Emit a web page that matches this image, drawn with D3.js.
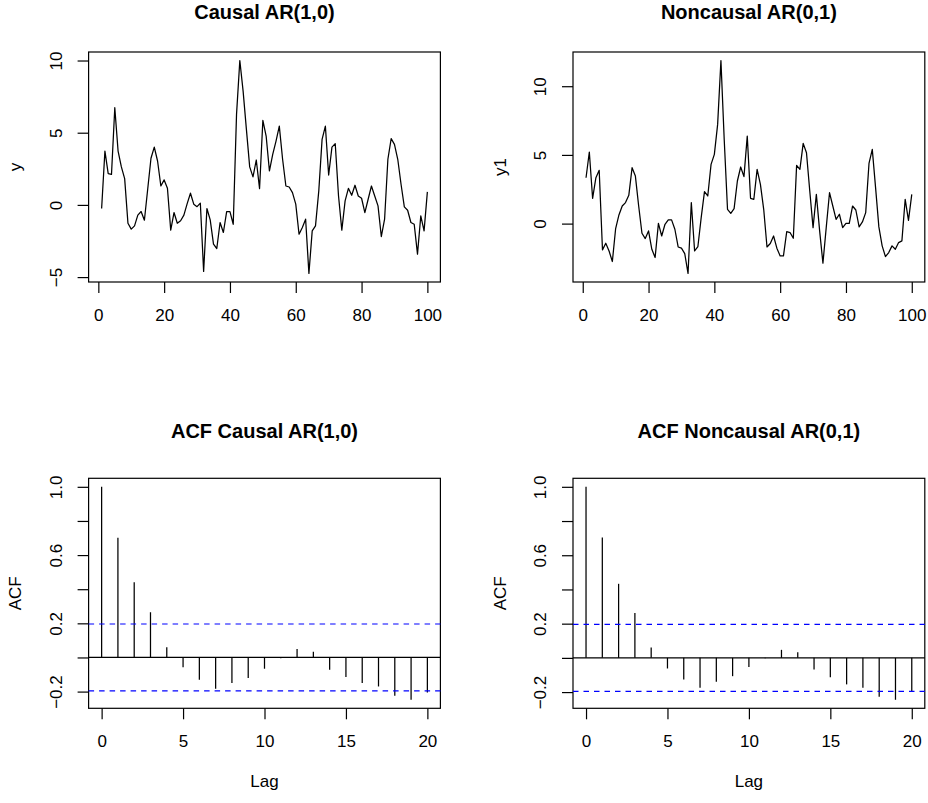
<!DOCTYPE html>
<html>
<head>
<meta charset="utf-8">
<script src="https://cdn.jsdelivr.net/npm/d3@7"></script>
<style>
  html, body { margin: 0; padding: 0; background: #fff; }
  svg { display: block; }
  text { font-family: "Liberation Sans", Arial, Helvetica, sans-serif; fill: #000; }
</style>
</head>
<body>
<svg id="chart" width="928" height="803"></svg>
<script>
// ---------- data ----------
const timeIndex = d3.range(1, 101);
const causalSeries = [
  -0.25, 3.73, 2.17, 2.12, 6.73, 3.73, 2.63, 1.82, -1.27, -1.68,
  -1.45, -0.71, -0.46, -1.06, 1.08, 3.23, 4.00, 3.04, 1.31, 1.73,
  1.15, -1.75, -0.53, -1.27, -1.10, -0.71, 0.09, 0.81, 0.05, -0.12,
  0.12, -4.61, -0.25, -1.04, -2.72, -3.02, -1.22, -1.91, -0.46, -0.46,
  -1.34, 6.27, 10.00, 7.88, 5.23, 2.63, 1.94, 3.11, 1.13, 5.85,
  4.77, 2.35, 3.50, 4.42, 5.46, 3.16, 1.31, 1.24, 0.85, 0.05,
  -2.03, -1.57, -0.99, -4.75, -1.80, -1.45, 0.97, 4.54, 5.46, 2.07,
  4.00, 4.24, 0.62, -1.75, 0.28, 1.15, 0.67, 1.36, 0.62, 0.46,
  -0.53, 0.39, 1.31, 0.62, -0.07, -2.19, -0.99, 3.16, 4.59, 4.19,
  3.16, 1.43, -0.14, -0.37, -1.22, -1.34, -3.41, -0.76, -1.80, 0.90
];
const noncausalSeries = [
  3.34, 5.21, 1.84, 3.34, 3.88, -1.91, -1.43, -1.99, -2.76, -0.36,
  0.63, 1.28, 1.53, 2.06, 4.07, 3.46, 1.28, -0.70, -1.09, -0.53,
  -1.87, -2.47, 0.02, -0.90, -0.05, 0.27, 0.27, -0.41, -1.70, -1.79,
  -2.18, -3.63, 1.53, -1.99, -1.67, 0.44, 2.33, 2.01, 4.31, 5.04,
  7.22, 11.87, 6.10, 1.04, 0.75, 1.09, 3.10, 4.12, 3.42, 6.37,
  1.84, 1.77, 3.95, 2.86, 1.04, -1.70, -1.45, -0.90, -1.79, -2.35,
  -2.35, -0.58, -0.65, -1.07, 4.24, 3.95, 5.84, 5.16, 2.37, -0.29,
  2.13, -0.53, -2.88, -0.29, 2.25, 1.28, 0.31, 0.68, -0.29, 0.02,
  0.02, 1.28, 0.99, -0.24, 0.12, 0.80, 4.38, 5.40, 2.62, -0.24,
  -1.62, -2.40, -2.11, -1.62, -1.87, -1.38, -1.26, 1.77, 0.24, 2.13
];
const lags = d3.range(0, 21);
const acfCausal = [1, 0.702, 0.441, 0.265, 0.060, -0.057, -0.131, -0.183, -0.150, -0.121,
  -0.066, -0.004, 0.049, 0.033, -0.072, -0.115, -0.150, -0.170, -0.224, -0.248, -0.205];
const acfNoncausal = [1, 0.703, 0.433, 0.262, 0.060, -0.062, -0.126, -0.175, -0.140, -0.107,
  -0.054, -0.002, 0.047, 0.033, -0.068, -0.113, -0.155, -0.175, -0.227, -0.245, -0.198];
const acfBound = 0.196;

const seriesXTicks = [0, 20, 40, 60, 80, 100];
const causalYTicks = [-5, 0, 5, 10];
const noncausalYTicks = [0, 5, 10];
const lagTicks = [0, 5, 10, 15, 20];
const acfYTicks = [-0.2, 0, 0.2, 0.4, 0.6, 0.8, 1.0];
const acfYLabelled = [-0.2, 0.2, 0.6, 1.0];

const titles = ["Causal AR(1,0)", "Noncausal AR(0,1)", "ACF Causal AR(1,0)", "ACF Noncausal AR(0,1)"];
const yTitles = ["y", "y1", "ACF", "ACF"];

// ---------- layout ----------
const svg = d3.select("#chart");
const colX = [88.6, 573.0];
const plotW = 351.8;
const rowY = [52, 478.3];
const plotH = 230;
const axisFont = 17;
const titleFont = 20;

function ext(lo, hi) { const r = hi - lo; return [lo - 0.04 * r, hi + 0.04 * r]; }
const fmt = d => (d < 0 ? "\u2212" + Math.abs(d) : String(d));
const fmt1 = d => (d < 0 ? "\u2212" + Math.abs(d).toFixed(1) : d.toFixed(1));

function panel(col, row, title, ytitle, xscale, yscale, xTicks, yTicks, yFmt, xlab) {
  const x0 = colX[col], y0 = rowY[row];
  const g = svg.append("g").attr("transform", `translate(${x0},${y0})`);
  // box
  g.append("rect").attr("x", 0).attr("y", 0).attr("width", plotW).attr("height", plotH)
    .attr("fill", "none").attr("stroke", "#000").attr("stroke-width", 1.2);
  // x axis
  const xa = g.append("g").attr("transform", `translate(0,${plotH})`)
    .call(d3.axisBottom(xscale).tickValues(xTicks).tickSize(11).tickSizeOuter(0).tickFormat(d => String(d)));
  xa.select(".domain").remove();
  xa.selectAll(".tick line").attr("stroke", "#000").attr("stroke-width", 1.2);
  xa.selectAll(".tick text").attr("y", 38.8).attr("dy", 0).style("font-size", axisFont + "px");
  // y axis
  const ya = g.append("g")
    .call(d3.axisLeft(yscale).tickValues(yTicks).tickSize(11).tickSizeOuter(0).tickFormat(yFmt));
  ya.select(".domain").remove();
  ya.selectAll(".tick line").attr("stroke", "#000").attr("stroke-width", 1.2);
  ya.selectAll(".tick text").attr("x", 0).attr("dy", 0).attr("text-anchor", "middle")
    .attr("transform", "translate(-26.6,0) rotate(-90)").style("font-size", axisFont + "px");
  // title
  svg.append("text").attr("x", x0 + plotW / 2).attr("y", row === 0 ? 18.5 : 437.5)
    .attr("text-anchor", "middle").style("font-size", titleFont + "px").style("font-weight", "bold")
    .text(title);
  // y title
  svg.append("text").attr("transform", `translate(${x0 - 67.4},${y0 + plotH / 2}) rotate(-90)`)
    .attr("text-anchor", "middle").style("font-size", axisFont + "px").text(ytitle);
  if (xlab) {
    svg.append("text").attr("x", x0 + plotW / 2).attr("y", y0 + plotH + 79)
      .attr("text-anchor", "middle").style("font-size", axisFont + "px").text(xlab);
  }
  return g;
}

// ---------- time series panels ----------
[[causalSeries, causalYTicks], [noncausalSeries, noncausalYTicks]].forEach(([series, yt], i) => {
  const x = d3.scaleLinear().domain(ext(1, 100)).range([0, plotW]);
  const y = d3.scaleLinear().domain(ext(d3.min(series), d3.max(series))).range([plotH, 0]);
  const g = panel(i, 0, titles[i], yTitles[i], x, y, seriesXTicks, yt, fmt, null);
  const line = d3.line().x((d, k) => x(timeIndex[k])).y(d => y(d));
  g.append("path").datum(series).attr("d", line)
    .attr("fill", "none").attr("stroke", "#000").attr("stroke-width", 1.25).attr("stroke-linejoin", "round");
});

// ---------- ACF panels ----------
[acfCausal, acfNoncausal].forEach((acf, i) => {
  const x = d3.scaleLinear().domain(ext(0, 20)).range([0, plotW]);
  const y = d3.scaleLinear().domain(ext(Math.min(d3.min(acf), -acfBound), 1)).range([plotH, 0]);
  const g = panel(i, 1, titles[i + 2], yTitles[i + 2], x, y, lagTicks, acfYTicks,
    d => (acfYLabelled.some(v => Math.abs(v - d) < 1e-9) ? fmt1(d) : ""), "Lag");
  // zero line
  g.append("line").attr("x1", 0).attr("x2", plotW).attr("y1", y(0)).attr("y2", y(0))
    .attr("stroke", "#000").attr("stroke-width", 1.2);
  // spikes
  g.selectAll("line.spike").data(acf).enter().append("line").attr("class", "spike")
    .attr("x1", (d, k) => x(lags[k])).attr("x2", (d, k) => x(lags[k]))
    .attr("y1", y(0)).attr("y2", d => y(d))
    .attr("stroke", "#000").attr("stroke-width", 1.25);
  // bounds
  [acfBound, -acfBound].forEach(b => {
    g.append("line").attr("x1", 0).attr("x2", plotW).attr("y1", y(b)).attr("y2", y(b))
      .attr("stroke", "#0000FF").attr("stroke-width", 1.2).attr("stroke-dasharray", "5.5,5");
  });
});
</script>
</body>
</html>
